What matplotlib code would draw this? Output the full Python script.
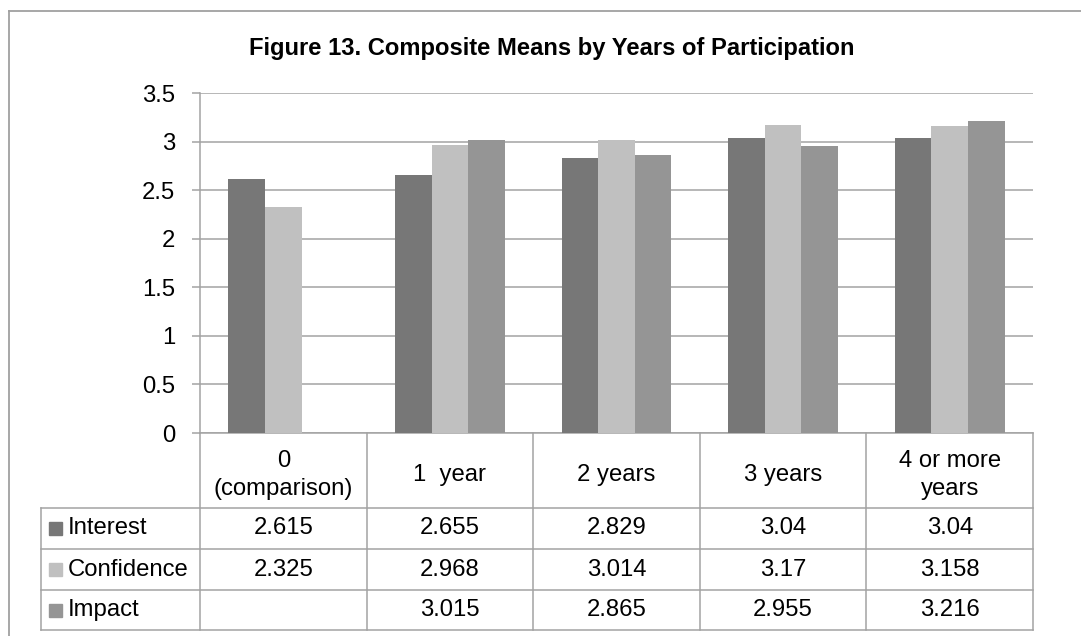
import numpy as np
import matplotlib.pyplot as plt
from matplotlib.lines import Line2D
from matplotlib.patches import Rectangle

plt.rcParams['font.family'] = ['Liberation Sans', 'DejaVu Sans']

categories = ['0\n(comparison)', '1  year', '2 years', '3 years', '4 or more\nyears']
series = ['Interest', 'Confidence', 'Impact']
interest = [2.615, 2.655, 2.829, 3.04, 3.04]
confidence = [2.325, 2.968, 3.014, 3.17, 3.158]
impact = [np.nan, 3.015, 2.865, 2.955, 3.216]
colors = ['#777777', '#c0c0c0', '#959595']
title = 'Figure 13. Composite Means by Years of Participation'

W, H = 1081, 636
line_c = '#a3a3a3'
fs = 17.2


def fx(px):
    return px / W


def fy(py):
    return 1 - py / H


fig = plt.figure(figsize=(W / 100, H / 100), dpi=100)
ax = fig.add_axes([fx(200), fy(433), fx(1033 - 200), (433 - 93) / H])

x = np.arange(len(categories))
bw = 0.22
for i, (name, vals, c) in enumerate(zip(series, [interest, confidence, impact], colors)):
    ax.bar(x + (i - 1) * bw, vals, bw, color=c, edgecolor='none', zorder=3)

ax.set_xlim(-0.5, len(categories) - 0.5)
ax.set_ylim(0, 3.5)
yt = np.arange(0, 3.51, 0.5)
ax.set_yticks(yt)
ax.set_yticklabels([f'{v:g}' for v in yt])
ax.set_xticks([])
ax.tick_params(axis='y', length=5.8, width=1.1, color=line_c, pad=12, labelsize=fs)
ax.grid(axis='y', color=line_c, linewidth=1.1, zorder=0)
for s in ['top', 'right']:
    ax.spines[s].set_visible(False)
for s in ['left', 'bottom']:
    ax.spines[s].set_color(line_c)
    ax.spines[s].set_linewidth(1.1)

fig.text(fx(552), fy(48), title, ha='center', va='center', fontsize=17.1, fontweight='bold')

# outer frame
fig.add_artist(Line2D([fx(9), fx(9)], [0, fy(11)], color='#a0a0a0', lw=1.3))
fig.add_artist(Line2D([fx(9), 1], [fy(11), fy(11)], color='#a0a0a0', lw=1.3))

# data table below the axis
edges = np.arange(len(categories) + 1) - 0.5
col_px = ax.transData.transform(np.c_[edges, np.zeros_like(edges)])[:, 0]
ctr_px = ax.transData.transform(np.c_[x, np.zeros_like(x, dtype=float)])[:, 0]
tbl_left = 41
row_top = [508, 549, 590]
row_bot = [549, 590, 630]

for cx in col_px:
    fig.add_artist(Line2D([fx(cx)] * 2, [fy(433), fy(630)], color=line_c, lw=1.1))
fig.add_artist(Line2D([fx(tbl_left)] * 2, [fy(508), fy(630)], color=line_c, lw=1.1))
for ry in [508, 549, 590, 630]:
    fig.add_artist(Line2D([fx(tbl_left), fx(col_px[-1])], [fy(ry)] * 2, color=line_c, lw=1.1))

for cx, lab in zip(ctr_px, categories):
    fig.text(fx(cx), fy(475), lab, ha='center', va='center', fontsize=fs, linespacing=1.3)

for r, (name, vals, c) in enumerate(zip(series, [interest, confidence, impact], colors)):
    cy = (row_top[r] + row_bot[r]) / 2
    fig.add_artist(Rectangle((fx(49), fy(cy + 6.5)), fx(13), 13 / H, color=c))
    fig.text(fx(68), fy(cy), name, ha='left', va='center', fontsize=fs)
    for cx, v in zip(ctr_px, vals):
        if np.isnan(v):
            continue
        fig.text(fx(cx), fy(cy), f'{v:g}', ha='center', va='center', fontsize=fs)

fig.savefig('out.png', dpi=100, facecolor='white')
